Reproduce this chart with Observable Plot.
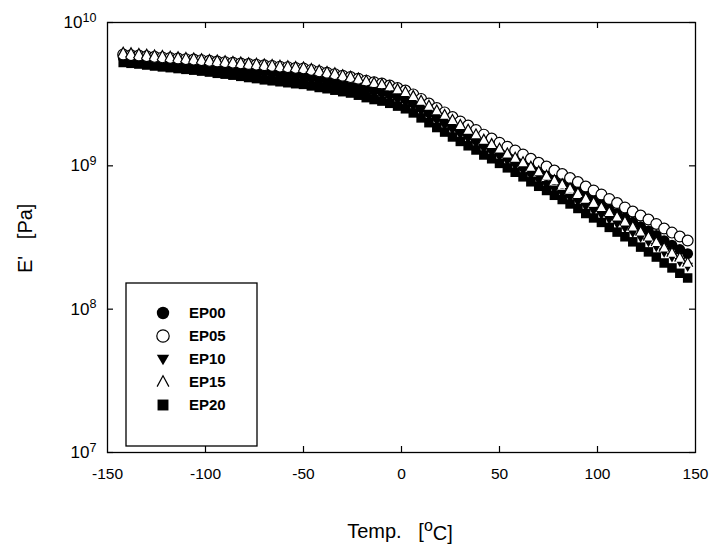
<!DOCTYPE html>
<html><head><meta charset="utf-8">
<script src="https://cdn.jsdelivr.net/npm/d3@7"></script>
<script src="https://cdn.jsdelivr.net/npm/@observablehq/plot@0.6"></script>
<style>body{margin:0;background:#fff;} svg{display:block;}</style>
</head><body><div id="chart"></div>
<script>
// Temperature [°C]
const temps = [-142,-138,-134,-130,-126,-122,-118,-114,-110,-106,-102,-98,-94,-90,-86,-82,-78,-74,-70,-66,-62,-58,-54,-50,-46,-42,-38,-34,-30,-26,-22,-18,-14,-10,-6,-2,2,6,10,14,18,22,26,30,34,38,42,46,50,54,58,62,66,70,74,78,82,86,90,94,98,102,106,110,114,118,122,126,130,134,138,142,146];
// E' in GPa (converted to Pa below)
const EP00 = [5.70,5.62,5.57,5.50,5.43,5.37,5.32,5.26,5.21,5.17,5.12,5.04,4.97,4.90,4.84,4.76,4.69,4.63,4.57,4.51,4.43,4.38,4.31,4.27,4.17,4.06,3.96,3.87,3.76,3.67,3.57,3.46,3.37,3.30,3.19,3.07,2.94,2.77,2.57,2.38,2.21,2.06,1.91,1.78,1.66,1.55,1.43,1.34,1.25,1.18,1.11,1.04,0.969,0.908,0.855,0.802,0.758,0.711,0.667,0.618,0.577,0.540,0.500,0.466,0.433,0.404,0.377,0.352,0.327,0.301,0.280,0.261,0.244];
const EP05 = [5.98,5.92,5.88,5.82,5.76,5.71,5.66,5.61,5.55,5.51,5.46,5.40,5.34,5.29,5.24,5.18,5.13,5.08,5.03,4.98,4.92,4.88,4.82,4.78,4.67,4.56,4.46,4.36,4.25,4.16,4.05,3.93,3.83,3.75,3.63,3.49,3.35,3.15,2.93,2.72,2.53,2.36,2.19,2.04,1.91,1.78,1.65,1.55,1.45,1.36,1.28,1.20,1.12,1.05,0.989,0.927,0.876,0.822,0.771,0.717,0.673,0.631,0.587,0.550,0.512,0.480,0.450,0.422,0.393,0.365,0.342,0.321,0.301];
const EP10 = [5.52,5.44,5.38,5.31,5.24,5.18,5.12,5.05,4.99,4.94,4.88,4.81,4.74,4.68,4.61,4.52,4.45,4.39,4.33,4.26,4.19,4.13,4.06,4.01,3.91,3.82,3.74,3.65,3.56,3.49,3.38,3.28,3.18,3.11,3.00,2.88,2.76,2.59,2.40,2.22,2.06,1.92,1.78,1.65,1.54,1.43,1.32,1.24,1.16,1.08,1.00,0.928,0.855,0.793,0.738,0.685,0.640,0.600,0.562,0.521,0.488,0.456,0.423,0.396,0.368,0.342,0.317,0.295,0.272,0.249,0.231,0.214,0.198];
const EP15 = [6.17,6.10,6.04,5.97,5.90,5.85,5.78,5.72,5.66,5.61,5.55,5.49,5.43,5.37,5.32,5.26,5.21,5.16,5.11,5.06,5.00,4.96,4.90,4.86,4.74,4.63,4.53,4.43,4.30,4.19,4.07,3.93,3.81,3.72,3.59,3.43,3.28,3.07,2.85,2.63,2.44,2.27,2.09,1.93,1.79,1.66,1.52,1.42,1.32,1.22,1.14,1.06,0.985,0.916,0.855,0.795,0.746,0.695,0.646,0.596,0.555,0.516,0.477,0.443,0.409,0.377,0.348,0.321,0.294,0.269,0.248,0.229,0.211];
const EP20 = [5.26,5.19,5.13,5.05,4.97,4.90,4.84,4.77,4.71,4.65,4.58,4.51,4.42,4.36,4.29,4.21,4.13,4.06,3.98,3.92,3.86,3.80,3.74,3.70,3.61,3.52,3.45,3.37,3.29,3.22,3.11,2.99,2.90,2.83,2.73,2.61,2.50,2.34,2.16,2.00,1.85,1.72,1.59,1.48,1.38,1.29,1.19,1.12,1.04,0.968,0.902,0.838,0.774,0.720,0.673,0.623,0.582,0.542,0.504,0.465,0.433,0.403,0.372,0.345,0.320,0.295,0.271,0.251,0.231,0.210,0.194,0.178,0.165];

const seriesNames = ["EP00","EP05","EP10","EP15","EP20"];
const xTicks = [-150,-100,-50,0,50,100,150];
const xInnerTicks = [-100,-50,0,50,100];
const yTicks = [1e7,1e8,1e9,1e10];
const xLabel = "Temp.   [";
const yLabel = "E'   [Pa]";

const valuesBy = {EP00, EP05, EP10, EP15, EP20};
const rows = name => temps.map((t, i) => ({T: t, E: valuesBy[name][i] * 1e9, s: name}));

// custom symbols
const rad = size => Math.sqrt(size / Math.PI);
const downTri = {draw(c, size){ const r = rad(size); c.moveTo(-r, -0.7*r); c.lineTo(r, -0.7*r); c.lineTo(0, r); c.closePath(); }};
const caret = {draw(c, size){ const r = rad(size); c.moveTo(-0.95*r, 0.75*r); c.lineTo(0, -r); c.lineTo(0.95*r, 0.75*r); }};
const square = {draw(c, size){ const r = rad(size); const h = 0.88*r; c.rect(-h, -h, 2*h, 2*h); }};

const style = {
  EP00: {symbol: "circle", fill: "black", stroke: "none"},
  EP05: {symbol: "circle", fill: "white", stroke: "black"},
  EP10: {symbol: downTri, fill: "black", stroke: "none"},
  EP15: {symbol: caret, fill: "white", stroke: "black"},
  EP20: {symbol: square, fill: "black", stroke: "none"}
};
const drawOrder = ["EP20","EP10","EP00","EP05","EP15"];
const R = 5.4;

const W = 710, H = 546, mL = 107, mR = 15, mT = 22, mB = 94;
const pw = W - mL - mR, ph = H - mT - mB;

const plot = Plot.plot({
  width: W, height: H,
  marginLeft: mL, marginRight: mR, marginTop: mT, marginBottom: mB,
  style: {fontFamily: "'Liberation Sans', Arial, sans-serif", fontSize: "16px", color: "black", background: "white"},
  x: {domain: [-150, 150]},
  y: {type: "log", domain: [1e7, 1e10]},
  marks: [
    ...drawOrder.map(n => Plot.dot(rows(n), {x: "T", y: "E", r: R, symbol: () => style[n].symbol, fill: style[n].fill, stroke: style[n].stroke, strokeWidth: 1.2})),
    Plot.ruleX(xInnerTicks, {insetTop: ph - 6, stroke: "black", strokeWidth: 1.2}),
    Plot.ruleX(xInnerTicks, {insetBottom: ph - 6, stroke: "black", strokeWidth: 1.2}),
    Plot.ruleY(yTicks, {insetRight: pw - 6, stroke: "black", strokeWidth: 1.2}),
    Plot.ruleY(yTicks, {insetLeft: pw - 6, stroke: "black", strokeWidth: 1.2}),
    Plot.frame({stroke: "black", strokeWidth: 1.3}),
    Plot.axisX({ticks: xTicks, tickSize: 0, tickPadding: 15, label: null, fontSize: 15.5, tickFormat: d => String(d)}),
    Plot.axisY({ticks: yTicks, tickSize: 0, tickPadding: 11, label: null, fontSize: 17, tickFormat: d => String(Math.round(Math.log10(d)))})
  ]
});

document.getElementById("chart").appendChild(plot);
const svg = d3.select(plot);

// superscript y tick labels
svg.selectAll('g[aria-label="y-axis tick label"] text').each(function(){
  const e = this.textContent;
  const t = d3.select(this);
  t.text(null);
  t.append("tspan").text("10");
  t.append("tspan").attr("dy", "-0.5em").attr("font-size", "0.74em").text(e);
});

const font = "'Liberation Sans', Arial, sans-serif";
// x label
const xl = svg.append("text").attr("x", 400).attr("y", 538).attr("text-anchor", "middle")
  .attr("font-family", font).attr("font-size", 20).attr("fill", "black").style("white-space", "pre");
xl.append("tspan").text(xLabel);
xl.append("tspan").attr("dy", "-0.42em").attr("font-size", "0.8em").text("o");
xl.append("tspan").attr("dy", "0.42em").text("C]");
// y label
svg.append("text").attr("transform", "translate(32,273) rotate(-90)").attr("text-anchor", "start")
  .attr("font-family", font).attr("font-size", 20).attr("fill", "black").style("white-space", "pre").text(yLabel);

// legend
const lg = svg.append("g");
lg.append("rect").attr("x", 126).attr("y", 283).attr("width", 131).attr("height", 163)
  .attr("fill", "white").attr("stroke", "black").attr("stroke-width", 1.3);
const rowY = [313, 336, 359, 382, 405];
seriesNames.forEach((n, i) => {
  const st = style[n];
  const type = typeof st.symbol === "string" ? d3.symbolCircle : st.symbol;
  lg.append("path").attr("transform", `translate(163,${rowY[i]})`)
    .attr("d", d3.symbol().type(type).size(Math.PI * 6.2 * 6.2)())
    .attr("fill", st.fill).attr("stroke", st.stroke).attr("stroke-width", 1.2);
  lg.append("text").attr("x", 189).attr("y", rowY[i]).attr("dy", "0.36em").attr("text-anchor", "start")
    .attr("font-family", font).attr("font-size", 15).attr("font-weight", "bold").attr("fill", "black").text(n);
});
</script>
</body></html>
